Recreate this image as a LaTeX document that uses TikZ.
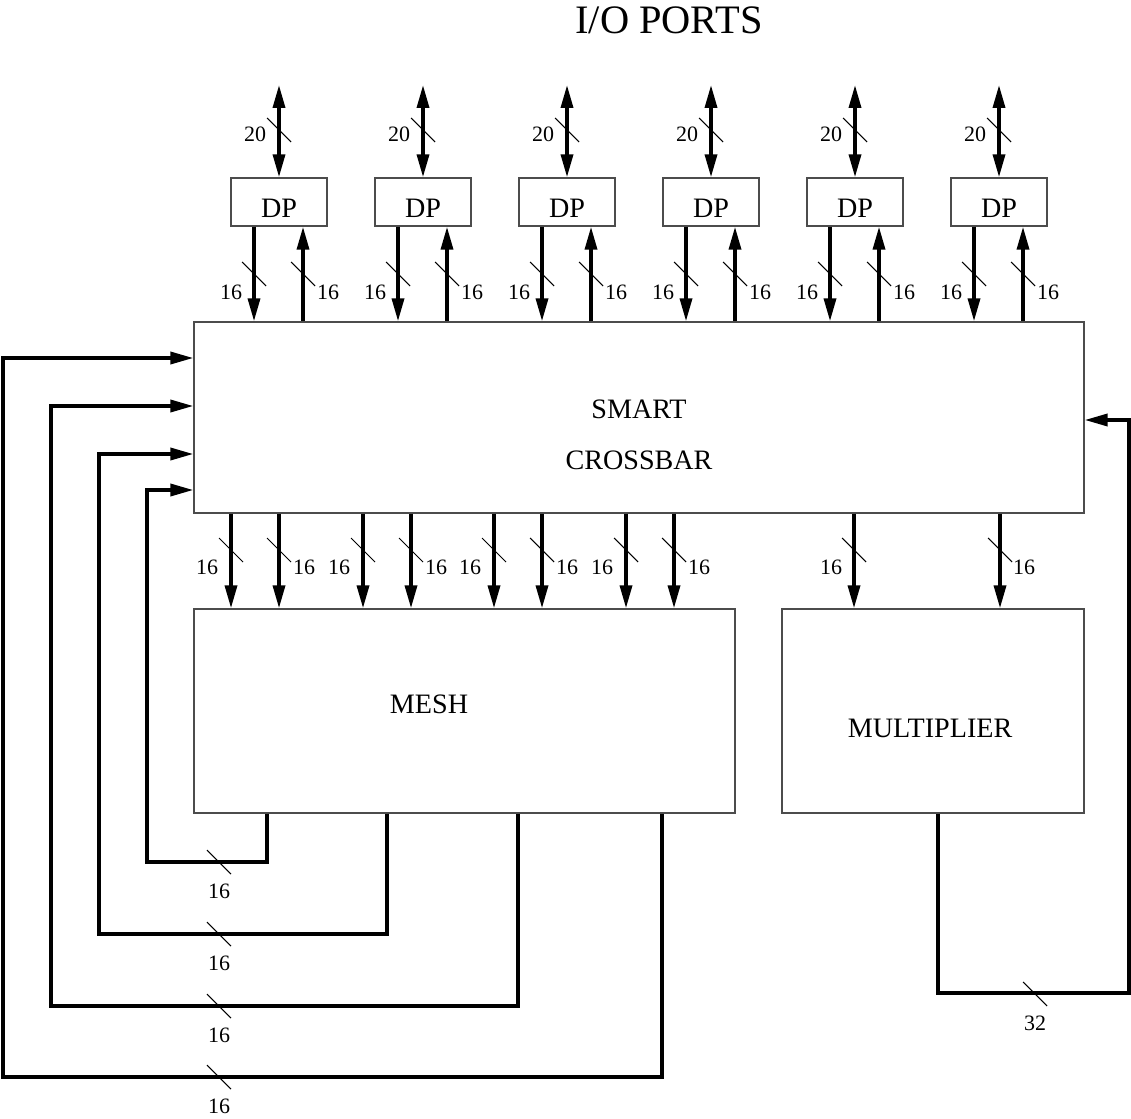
\documentclass[tikz,border=0pt]{standalone}
\usepackage{fontspec}
\setmainfont{Liberation Serif}
\usetikzlibrary{arrows.meta,calc}

\begin{document}
\begin{tikzpicture}[
    x=0.02cm, y=-0.02cm,
    >={Triangle[length=0.46cm,width=0.24cm]},
    block/.style={draw=black!70, line width=0.8pt, inner sep=0pt},
    dpbox/.style={block, minimum width=1.92cm, minimum height=0.96cm, font=\fontsize{16}{19}\selectfont, text height=0.64cm, text depth=0pt},
    txt/.style={font=\fontsize{16}{19}\selectfont, anchor=base},
    num/.style={font=\fontsize{12.5}{14}\selectfont, anchor=base},
    bus/.style={line width=2pt},
    busmark/.pic={\draw[line width=0.6pt] (-12,-12) -- (12,12);}
]
\useasboundingbox (0,0) rectangle (1131,1118);

\node[font=\fontsize{23}{27}\selectfont, anchor=base] (title) at (669,34) {I/O PORTS};

% blocks
\node[block, minimum width=17.8cm, minimum height=3.82cm] (xbar) at (639,417.5) {};
\node[txt] at (639,418) {SMART};
\node[txt] at (639,469) {CROSSBAR};
\node[block, minimum width=10.82cm, minimum height=4.08cm] (mesh) at (464.5,711) {};
\node[txt] at (429,713) {MESH};
\node[block, minimum width=6.04cm, minimum height=4.08cm] (mult) at (933,711) {};
\node[txt] at (930,737) {MULTIPLIER};

% data ports and their buses
\foreach \i in {1,...,6} {
  \pgfmathsetmacro{\px}{279+144*(\i-1)}
  \pgfmathsetmacro{\dn}{\px-25}
  \pgfmathsetmacro{\up}{\px+24}
  \node[dpbox] (dp\i) at (\px,202) {DP};
  \coordinate (io\i) at (\px,85);
  \draw[bus,<->] (io\i) -- (dp\i.north);
  \pic at (\px,130) {busmark};
  \node[num] at (\px-24,142) {20};
  \draw[bus,->] (dp\i.south -| \dn,0) -- (xbar.north -| \dn,0);
  \pic at (\dn,274) {busmark};
  \node[num] at (\dn-23,299) {16};
  \draw[bus,<-] (dp\i.south -| \up,0) -- (xbar.north -| \up,0);
  \pic at (\up,274) {busmark};
  \node[num] at (\up+25,299) {16};
}

% crossbar to mesh and multiplier
\foreach \sx/\dx/\dst in {231/-24/mesh, 279/25/mesh, 363/-24/mesh, 411/25/mesh,
    494/-24/mesh, 542/25/mesh, 626/-24/mesh, 674/25/mesh, 854/-23/mult, 1000/24/mult} {
  \draw[bus,->] (xbar.south -| \sx,0) -- (\dst.north -| \sx,0);
  \pic at (\sx,550) {busmark};
  \node[num] at (\sx+\dx,574) {16};
}

% mesh feedback
\foreach \sx/\by/\lx/\ty in {267/862/147/490, 387/934/99/454, 518/1006/51/406, 662/1077/3/358} {
  \draw[bus,->] (mesh.south -| \sx,0) |- (\lx,\by) |- (xbar.west |- 0,\ty);
  \pic at (219,\by) {busmark};
  \node[num] at (219,\by+36) {16};
}

% multiplier feedback
\draw[bus,->] (mult.south -| 938,0) |- (1129,993) |- (xbar.east |- 0,420);
\pic at (1035,994) {busmark};
\node[num] at (1035,1030) {32};
\end{tikzpicture}
\end{document}
